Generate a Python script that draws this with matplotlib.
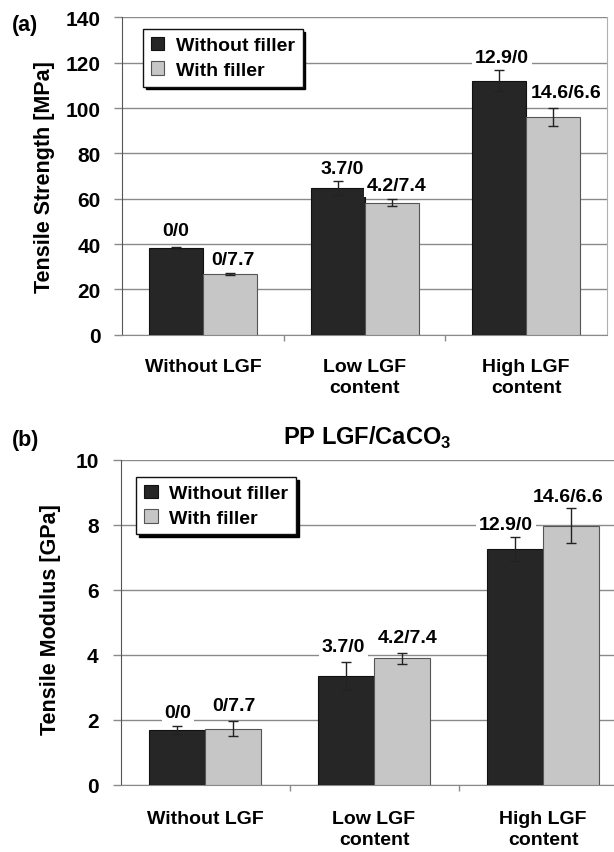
import matplotlib
matplotlib.use("Agg")
import matplotlib.pyplot as plt
import numpy as np
from matplotlib.patches import Patch

plt.rcParams["font.family"] = ["Liberation Sans", "DejaVu Sans"]
plt.rcParams["font.weight"] = "bold"
plt.rcParams["mathtext.fontset"] = "custom"
plt.rcParams["mathtext.rm"] = "Liberation Sans:bold"
plt.rcParams["mathtext.bf"] = "Liberation Sans:bold"

categories = ["Without LGF", "Low LGF\ncontent", "High LGF\ncontent"]
series_names = ["Without filler", "With filler"]

# tensile strength [MPa]
strength_wo = [38.4, 64.8, 112.1]
strength_w = [26.7, 58.3, 95.9]
strength_wo_err = [0.5, 3.2, 4.7]
strength_w_err = [0.5, 1.5, 4.0]

# tensile modulus [GPa]
modulus_wo = [1.69, 3.34, 7.26]
modulus_w = [1.73, 3.89, 7.98]
modulus_wo_err = [0.12, 0.43, 0.37]
modulus_w_err = [0.22, 0.16, 0.55]

# fibre/filler content annotations
labels_wo = ["0/0", "3.7/0", "12.9/0"]
labels_w = ["0/7.7", "4.2/7.4", "14.6/6.6"]

# where the annotations sit (data units)
strength_label_y = ([46.0, 73.5, 122.4], [33.4, 66.0, 106.8])
strength_label_dx = ([-0.006, 0.03, 0.017], [0.018, 0.033, 0.083])
modulus_label_y = ([2.21, 4.27, 8.0], [2.43, 4.52, 8.89])
modulus_label_dx = ([0.007, -0.013, -0.053], [0.003, 0.033, -0.017])

DARK = "#262626"
LIGHT = "#c6c6c6"
GRID = "#8a8a8a"
W = 1 / 3


def draw_panel(ax, wo, w, wo_err, w_err, ymax, ystep, ylabel_y, ylabel_dx, legend_xy, xpad):
    x = np.arange(len(categories))
    ax.bar(x - W / 2, wo, W, color=DARK, edgecolor="#111111", lw=0.8, zorder=3)
    ax.bar(x + W / 2, w, W, color=LIGHT, edgecolor="#555555", lw=0.8, zorder=3)
    ax.errorbar(x - W / 2, wo, yerr=wo_err, fmt="none", ecolor="#222222",
                elinewidth=1.0, capsize=3.5, capthick=1.0, zorder=4)
    ax.errorbar(x + W / 2, w, yerr=w_err, fmt="none", ecolor="#222222",
                elinewidth=1.0, capsize=3.5, capthick=1.0, zorder=4)

    for i in range(len(categories)):
        for k, (lab, off) in enumerate(((labels_wo[i], -W / 2), (labels_w[i], W / 2))):
            ax.text(x[i] + off + ylabel_dx[k][i], ylabel_y[k][i], lab,
                    ha="center", va="center", fontsize=14, fontweight="bold",
                    zorder=5,
                    bbox=dict(boxstyle="square,pad=0.15", fc="white", ec="none"))

    ax.set_xlim(-0.5, 2.5)
    ax.set_ylim(0, ymax)
    ax.set_yticks(np.arange(0, ymax + ystep / 2, ystep))
    ax.yaxis.grid(True, color=GRID, lw=1.0, zorder=0)
    ax.set_axisbelow(True)
    ax.tick_params(axis="y", direction="out", length=5.8, width=1.0, color=GRID,
                   labelsize=15, pad=10)
    ax.set_xticks(x)
    ax.set_xticklabels(categories, fontsize=14, fontweight="bold", linespacing=1.3)
    ax.tick_params(axis="x", length=0, pad=xpad)
    ax.set_xticks([0.5, 1.5], minor=True)
    ax.tick_params(axis="x", which="minor", direction="out", length=4, width=1.0, color=GRID)
    for lab in ax.get_yticklabels():
        lab.set_fontweight("bold")

    ax.spines["top"].set_visible(False)
    ax.spines["right"].set_color("#b0b0b0")
    ax.spines["left"].set_color("#555555")
    ax.spines["bottom"].set_color(GRID)

    handles = [Patch(facecolor=DARK, edgecolor="#111111", lw=0.8),
               Patch(facecolor=LIGHT, edgecolor="#555555", lw=0.8)]
    leg = ax.legend(handles, series_names, loc="upper left", bbox_to_anchor=legend_xy,
                    borderaxespad=0, fancybox=False, framealpha=1, edgecolor="#111111",
                    shadow={"color": "black", "alpha": 1.0},
                    prop={"weight": "bold", "size": 14},
                    handlelength=0.7, handleheight=0.7, handletextpad=0.6,
                    labelspacing=0.35, borderpad=0.4)
    leg.get_frame().set_linewidth(1.0)
    leg.set_zorder(6)


fig = plt.figure(figsize=(6.14, 8.53), dpi=100)

ax_a = fig.add_axes([0.1995, 0.6064, 0.789, 0.3721])
draw_panel(ax_a, strength_wo, strength_w, strength_wo_err, strength_w_err,
           140, 20, strength_label_y, strength_label_dx, (0.042, 0.963), 16.5)

ax_b = fig.add_axes([0.1963, 0.0789, 0.8257, 0.3807])
draw_panel(ax_b, modulus_wo, modulus_w, modulus_wo_err, modulus_w_err,
           10, 2, modulus_label_y, modulus_label_dx, (0.031, 0.948), 18)
ax_b.spines["right"].set_visible(False)

fig.text(45 / 614, 0.792, "Tensile Strength [MPa]", rotation=90, ha="center",
         va="center", fontsize=15.5, fontweight="bold")
fig.text(51 / 614, 1 - 620 / 853, "Tensile Modulus [GPa]", rotation=90, ha="center",
         va="center", fontsize=15.5, fontweight="bold")
fig.text(12 / 614, 1 - 25 / 853, "(a)", ha="left", va="center", fontsize=15.5,
         fontweight="bold")
fig.text(12 / 614, 1 - 441 / 853, "(b)", ha="left", va="center", fontsize=15.5,
         fontweight="bold")
fig.text(367 / 614, 1 - 438 / 853, r"PP LGF/CaCO$_{3}$", ha="center", va="center",
         fontsize=17, fontweight="bold")

fig.savefig("out.png", dpi=100)
